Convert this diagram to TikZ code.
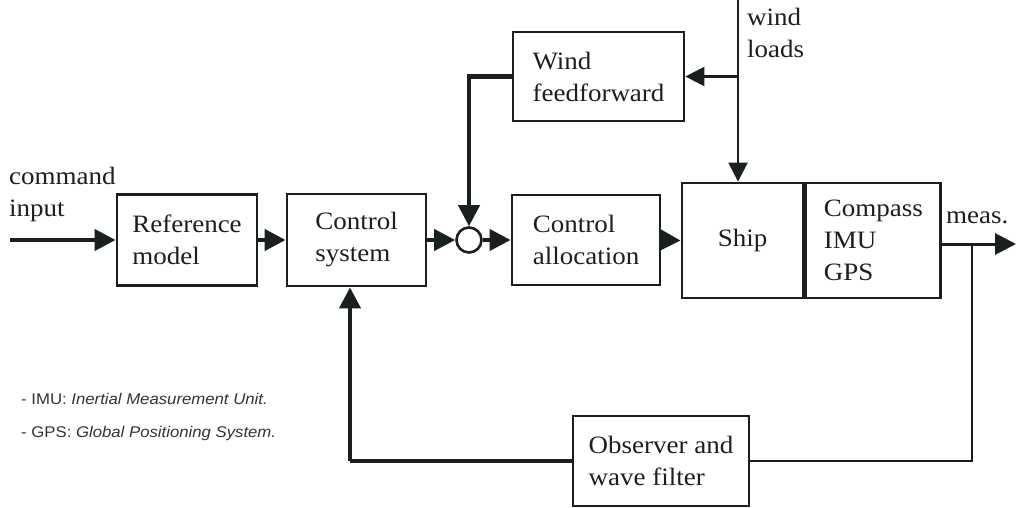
\documentclass[tikz,border=0pt]{standalone}
\usepackage{fontspec}
\setmainfont{Liberation Serif}[FakeStretch=1.08]
\setsansfont{Liberation Sans}[FakeStretch=1.08]
\usetikzlibrary{arrows.meta}
\definecolor{ink}{HTML}{1A1F1F}
\definecolor{legc}{HTML}{333333}
\newcommand\mainsz{\fontsize{25}{32}\selectfont}
\newcommand\legsz{\fontsize{15.5}{18}\selectfont}
\begin{document}
\begin{tikzpicture}[x=1pt,y=-1pt,
  box/.style={draw=ink, line width=2.8pt, align=left, inner sep=0pt, font=\mainsz, text=ink},
  lbl/.style={align=left, inner sep=0pt, font=\mainsz, text=ink},
  tipx/.tip={Triangle[length=21pt,width=21pt]},
  tips/.tip={Triangle[length=19pt,width=19pt]},
  conn/.style={draw=ink, line width=4.2pt, -tipx},
  thinconn/.style={draw=ink, line width=2.4pt, -tips},
  thinline/.style={draw=ink, line width=2.2pt},
  thickline/.style={draw=ink, line width=4.2pt}]
\useasboundingbox (0,0) rectangle (1016,508);
% blocks
\node[box, minimum width=140pt, minimum height=91pt] (ref) at (187,240) {Reference\\model};
\node[box, minimum width=139pt, minimum height=92pt] (ctrl) at (356.5,240) {Control\\system};
\node[circle, draw=ink, line width=2.6pt, minimum size=25pt, inner sep=0pt] (sum) at (469,240) {};
\node[box, minimum width=148pt, minimum height=90pt] (alloc) at (586,240) {Control\\allocation};
\node[box, minimum width=171pt, minimum height=89pt] (wff) at (598.5,76.5) {Wind\\feedforward};
\node[box, minimum width=121pt, minimum height=115pt] (ship) at (742.5,240.5) {Ship};
\node[box, minimum width=135pt, minimum height=115pt, anchor=west] (sens) at (ship.east) {Compass\\IMU\\GPS};
\node[box, minimum width=176pt, minimum height=90pt] (obs) at (661,461) {Observer and\\wave filter};
% labels
\node[lbl, anchor=north west] (cmd) at (9,167) {command\\input};
\node[lbl, anchor=north west] (wl) at (747,8) {wind\\loads};
\node[lbl, anchor=base west] (meas) at (946,223) {meas.};
\node[anchor=base west, inner sep=0pt, font=\legsz\sffamily, text=legc] (leg1) at (21,404) {- IMU: \textit{Inertial Measurement Unit.}};
\node[anchor=base west, inner sep=0pt, font=\legsz\sffamily, text=legc] (leg2) at (21,437) {- GPS: \textit{Global Positioning System.}};
% coordinates
\coordinate (in) at (10,240);
\coordinate (wtop) at (738,0);
\coordinate (wbr) at (738,76.5);
\coordinate (mend) at (1016,244);
\coordinate (mbr) at (972,244);
\coordinate (fb) at (972,461);
\coordinate (fl) at (350,461);
% connectors
\draw[conn] (in) -- (ref.west);
\draw[conn] (ref.east) -- (ctrl.west);
\draw[conn] (ctrl.east) -- (sum.west);
\draw[conn] (sum.east) -- (alloc.west);
\draw[conn] (alloc.east) -- (ship.west);
\draw[conn] (wff.west) -| (sum.north);
\draw[thinconn] (wtop) -- (wtop |- ship.north);
\draw[thinconn] (wbr) -- (wff.east);
\draw[draw=ink, line width=3pt, -tipx] (sens.east |- mend) -- (mend);
\draw[thinline] (mbr) -- (fb) -- (obs.east);
\draw[thickline] (obs.west) -- (fl);
\draw[conn] (fl) -- (fl |- ctrl.south);
\end{tikzpicture}
\end{document}
